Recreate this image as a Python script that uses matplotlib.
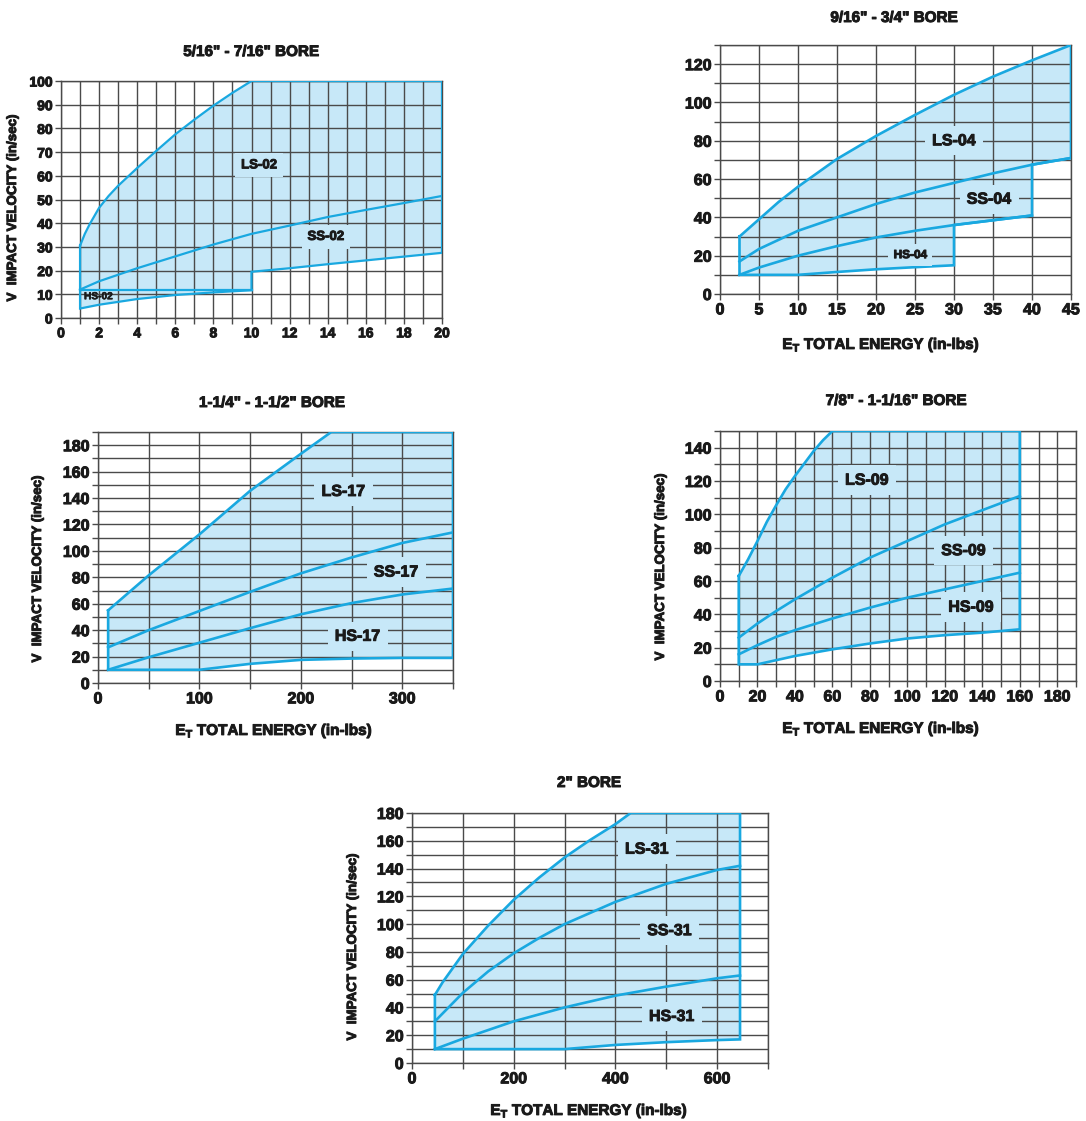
import matplotlib
matplotlib.use('Agg')
import matplotlib.pyplot as plt
import matplotlib.patheffects as pe_
from matplotlib.ticker import MultipleLocator

plt.rcParams['font.family'] = ['Liberation Sans', 'DejaVu Sans']
plt.rcParams['font.weight'] = 'bold'

LINE = '#19a8e0'
FILL = '#c7e8f8'
GRID = '#4a4a4a'
INK = '#1a1a1a'
W, H = 1086, 1121
HEAVY = [pe_.withStroke(linewidth=0.7, foreground=INK)]

# 5/16" - 7/16" bore
ls02_e = [1, 1.25, 1.5, 2, 2.5, 3, 4, 5, 6, 7, 8, 9, 10, 20]
ls02_v = [30.5, 35.5, 39.5, 46.5, 51.5, 55.8, 63.3, 70.5, 77.5, 83.7, 89.6, 95, 100, 100]
ss02_e = [1, 2, 4, 6, 8, 10, 12, 14, 16, 18, 20]
ss02_v = [12, 15.5, 21, 26, 31, 35.5, 39, 42.6, 45.6, 48.5, 51.5]
low02_e = [10, 12, 14, 16, 18, 20]
low02_v = [19.5, 21, 22.7, 24.3, 25.9, 27.5]
hs02_e = [1, 10]
hs02_v = [12, 12]
hsl02_e = [1, 2, 4, 6, 8, 10]
hsl02_v = [4, 5.6, 8, 9.7, 10.8, 11.7]

# 9/16" - 3/4" bore
ls04_e = [2.5, 5, 7.5, 10, 15, 20, 25, 30, 35, 40, 45]
ls04_v = [30, 39, 48, 56, 70.5, 82.5, 93.5, 104, 113.5, 122, 130]
ss04_e = [2.5, 5, 10, 15, 20, 25, 30, 35, 40, 45]
ss04_v = [17, 23.5, 33, 40, 47, 53, 58, 63, 67.5, 71]
hs04_e = [2.5, 5, 10, 15, 20, 25, 30, 35, 40]
hs04_v = [10, 13.8, 20, 25, 29.5, 33, 36, 38.5, 41]
low04_e = [2.5, 10, 15, 20, 25, 30]
low04_v = [10, 10, 11.5, 12.9, 14, 15]

# 1-1/4" - 1-1/2" bore
ls17_e = [10, 50, 100, 150, 200, 230, 350]
ls17_v = [55, 81.5, 112.5, 145.5, 173.5, 190, 190]
ss17_e = [10, 50, 100, 150, 200, 250, 300, 350]
ss17_v = [27, 40, 54.5, 69, 83, 95, 106, 114]
hs17_e = [10, 50, 100, 150, 200, 250, 300, 350]
hs17_v = [10, 19.5, 30.5, 41.5, 52, 60.5, 67, 71.5]
low17_e = [10, 100, 150, 200, 250, 300, 350]
low17_v = [10, 10, 14.5, 17.5, 18.5, 19, 19]

# 7/8" - 1-1/16" bore
ls09_e = [10, 15, 20, 25, 30, 35, 40, 45, 50, 55, 60, 160]
ls09_v = [63, 73, 84, 95.5, 105.5, 115, 123, 130.5, 138, 144.5, 150, 150]
ss09_e = [10, 20, 30, 40, 60, 80, 100, 120, 140, 160]
ss09_v = [26, 34.5, 42, 49, 62, 74, 84, 94, 102.5, 111]
hs09_e = [10, 20, 30, 40, 60, 80, 100, 120, 140, 160]
hs09_v = [16, 21.5, 26.5, 30.5, 37.5, 44, 50, 55, 60, 65]
low09_e = [10, 20, 40, 60, 80, 100, 120, 140, 160]
low09_v = [10, 10, 15, 19, 22.5, 25.5, 27.5, 29, 31]

# 2" bore
ls31_e = [45, 60, 100, 150, 200, 250, 300, 350, 400, 430, 645]
ls31_v = [49, 58, 78.5, 99, 117.5, 133.5, 148, 160.5, 172, 180, 180]
ss31_e = [45, 100, 150, 200, 250, 300, 400, 500, 600, 645]
ss31_v = [30, 50.5, 66, 79, 90, 100, 116, 129, 139, 142]
hs31_e = [45, 100, 200, 300, 400, 500, 600, 645]
hs31_v = [10, 17.5, 30, 40, 48.5, 55, 61, 63]
low31_e = [45, 300, 400, 500, 600, 645]
low31_v = [10, 10, 13, 15, 16.5, 17]

titles = ['5/16" - 7/16" BORE', '9/16" - 3/4" BORE', '1-1/4" - 1-1/2" BORE',
          '7/8" - 1-1/16" BORE', '2" BORE']
YLABEL = 'V  IMPACT VELOCITY (in/sec)'
XLABEL = r'E$_\mathregular{T}$ TOTAL ENERGY (in-lbs)'


def px(l, r, t, b):
    return [l / W, 1 - b / H, (r - l) / W, (b - t) / H]


def setup(ax, xlim, ylim, xmaj, xmin, ymaj, ymin, fs):
    ax.set_xlim(*xlim)
    ax.set_ylim(*ylim)
    ax.xaxis.set_major_locator(MultipleLocator(xmaj))
    ax.xaxis.set_minor_locator(MultipleLocator(xmin))
    ax.yaxis.set_major_locator(MultipleLocator(ymaj))
    ax.yaxis.set_minor_locator(MultipleLocator(ymin))
    ax.set_axisbelow(False)
    ax.grid(True, which='both', color=GRID, lw=1.0)
    ax.tick_params(which='both', direction='out', length=4, width=1, color=GRID,
                   labelsize=fs, labelcolor=INK, pad=2)
    for s in ax.spines.values():
        s.set_color(GRID)
        s.set_linewidth(1)


def region(ax, pe, pv, lines, lw):
    ax.fill(pe, pv, facecolor=FILL, edgecolor='none', zorder=1)
    ax.plot(pe + pe[:1], pv + pv[:1], color=LINE, lw=lw, zorder=3, solid_joinstyle='miter')
    for e, v in lines:
        ax.plot(e, v, color=LINE, lw=lw, zorder=3, solid_joinstyle='round')


def tag(ax, x, y, s, fs):
    ax.text(x, y, s, fontsize=fs, fontweight='bold', color=INK, ha='center', va='center',
            zorder=4, path_effects=HEAVY,
            bbox=dict(boxstyle='square,pad=0.45', facecolor=FILL, edgecolor='none'))


fig = plt.figure(figsize=(W / 100, H / 100), dpi=100)
axes = []

# chart 1
ax = fig.add_axes(px(61, 442, 81, 318))
axes.append(ax)
setup(ax, (0, 20), (0, 100), 2, 1, 10, 10, 10)
region(ax, ls02_e + low02_e[::-1] + hsl02_e[::-1],
       ls02_v + low02_v[::-1] + hsl02_v[::-1],
       [(ss02_e, ss02_v), (hs02_e, hs02_v)], 1.6)
tag(ax, 10.4, 64.4, 'LS-02', 9.5)
tag(ax, 13.9, 34.2, 'SS-02', 9.5)
ax.text(1.96, 9.2, 'HS-02', fontsize=7.3, fontweight='bold', color=INK, ha='center',
        va='center', zorder=4, path_effects=[pe_.withStroke(linewidth=0.4, foreground=INK)])

# chart 2
ax = fig.add_axes(px(720, 1071, 45, 294))
axes.append(ax)
setup(ax, (0, 45), (0, 130), 5, 5, 20, 10, 11.5)
region(ax, ls04_e + ss04_e[-1:-3:-1] + hs04_e[-1:-4:-1] + low04_e[::-1],
       ls04_v + ss04_v[-1:-3:-1] + hs04_v[-1:-4:-1] + low04_v[::-1],
       [(ss04_e, ss04_v), (hs04_e, hs04_v)], 1.9)
tag(ax, 30, 80, 'LS-04', 11.5)
tag(ax, 34.5, 49.5, 'SS-04', 11.5)
tag(ax, 24.4, 20.3, 'HS-04', 8.5)

# chart 3
ax = fig.add_axes(px(98, 453, 432, 683))
axes.append(ax)
setup(ax, (0, 350), (0, 190), 100, 50, 20, 10, 11.5)
region(ax, ls17_e + low17_e[::-1], ls17_v + low17_v[::-1],
       [(ss17_e, ss17_v), (hs17_e, hs17_v)], 1.9)
tag(ax, 242, 145, 'LS-17', 11.5)
tag(ax, 294, 84, 'SS-17', 11.5)
tag(ax, 256, 35.4, 'HS-17', 11.5)

# chart 4
ax = fig.add_axes(px(720, 1076, 431, 681))
axes.append(ax)
setup(ax, (0, 190), (0, 150), 20, 10, 20, 10, 11.5)
region(ax, ls09_e + low09_e[::-1], ls09_v + low09_v[::-1],
       [(ss09_e, ss09_v), (hs09_e, hs09_v)], 1.9)
tag(ax, 78.4, 120.5, 'LS-09', 11.5)
tag(ax, 130, 78.2, 'SS-09', 11.5)
tag(ax, 134, 44.3, 'HS-09', 11.5)

# chart 5
ax = fig.add_axes(px(412, 768, 813, 1063))
axes.append(ax)
setup(ax, (0, 700), (0, 180), 200, 100, 20, 10, 11.5)
region(ax, ls31_e + low31_e[::-1], ls31_v + low31_v[::-1],
       [(ss31_e, ss31_v), (hs31_e, hs31_v)], 1.9)
tag(ax, 462, 154, 'LS-31', 11.5)
tag(ax, 506.6, 95.3, 'SS-31', 11.5)
tag(ax, 511, 33.5, 'HS-31', 11.5)

# titles and axis labels in pixel positions
title_xy = [(251, 52), (894, 18), (272, 403), (896, 401), (589, 783)]
for (x, y), t in zip(title_xy, titles):
    fig.text(x / W, 1 - y / H, t, fontsize=11, fontweight='bold', color=INK,
             ha='center', va='center', path_effects=HEAVY)

ylab_xy = [(13, 208), (38, 569), (661, 567), (353, 947)]
for x, y in ylab_xy:
    fig.text(x / W, 1 - y / H, YLABEL, fontsize=9.6, fontweight='bold', color=INK,
             rotation=90, ha='center', va='center', path_effects=HEAVY)

xlab_xy = [(881, 345), (274, 731), (881, 729), (589, 1111)]
for x, y in xlab_xy:
    fig.text(x / W, 1 - y / H, XLABEL, fontsize=11, fontweight='bold', color=INK,
             ha='center', va='center', path_effects=HEAVY)

fig.canvas.draw()
for ax in axes:
    for lab in ax.get_xticklabels() + ax.get_yticklabels():
        lab.set_path_effects(HEAVY)

fig.savefig('out.png', dpi=100)
